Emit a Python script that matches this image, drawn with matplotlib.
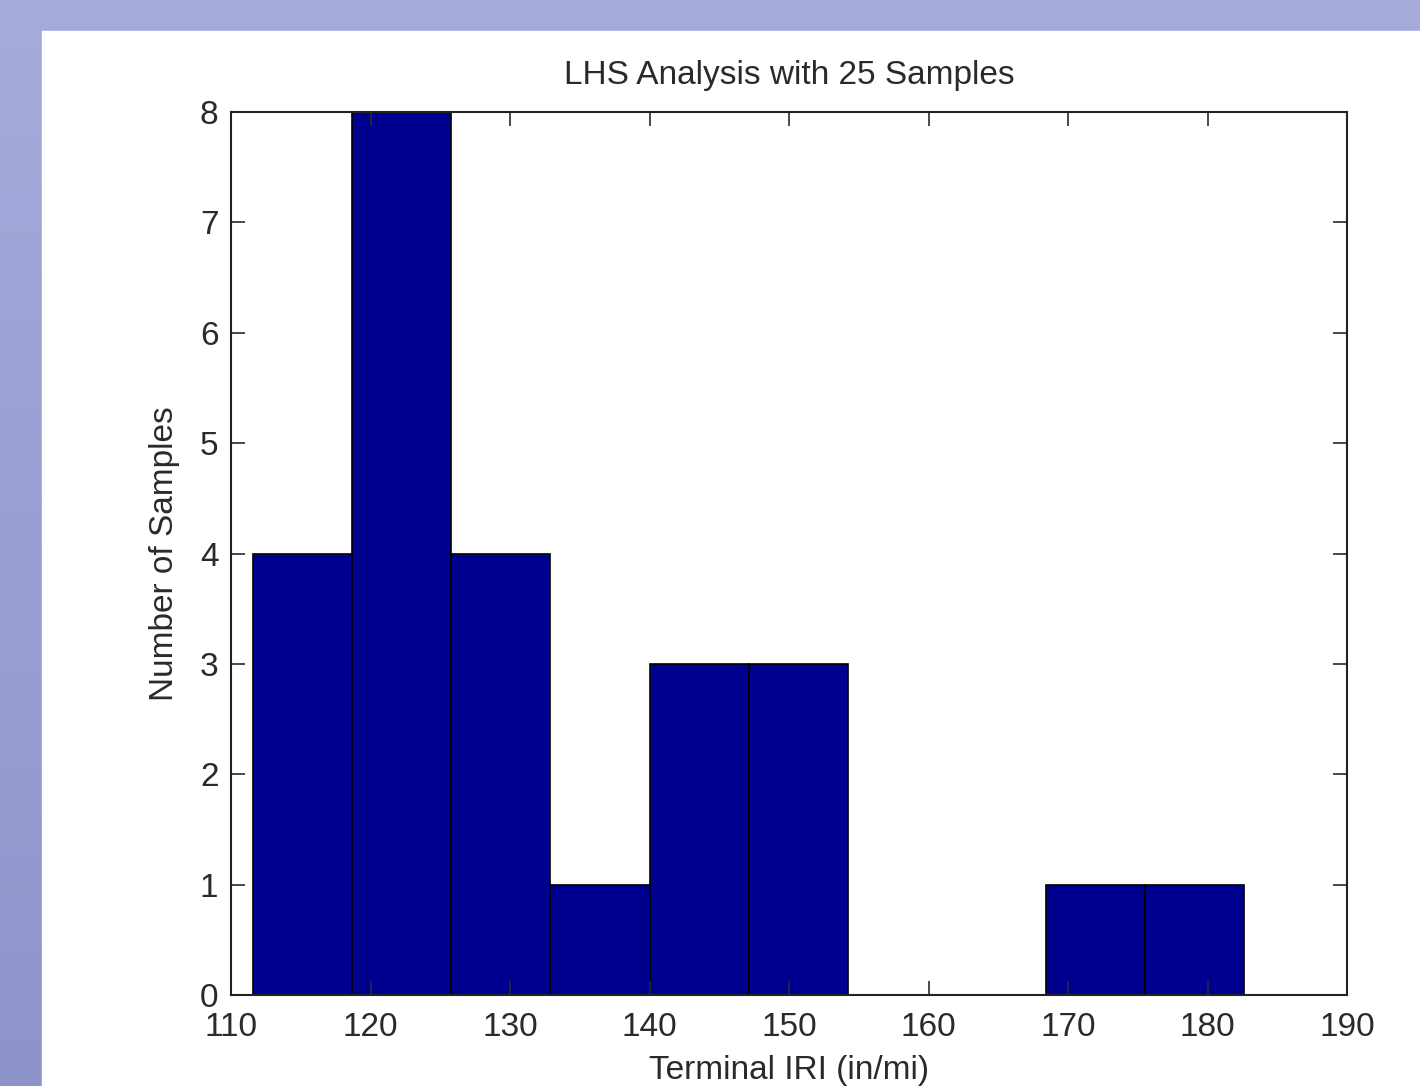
import numpy as np
import matplotlib
matplotlib.use("Agg")
import matplotlib.pyplot as plt

# Data
bin_edges = [111.6, 118.7, 125.8, 132.9, 140.0, 147.1, 154.2, 161.3, 168.4, 175.5, 182.6]
counts = [4, 8, 4, 1, 3, 3, 0, 0, 1, 1]
x_ticks = [110, 120, 130, 140, 150, 160, 170, 180, 190]
y_ticks = [0, 1, 2, 3, 4, 5, 6, 7, 8]
title = "LHS Analysis with 25 Samples"
xlabel = "Terminal IRI (in/mi)"
ylabel = "Number of Samples"

plt.rcParams['font.family'] = ['Liberation Sans', 'DejaVu Sans']

W, H = 1420, 1086
fig = plt.figure(figsize=(W / 100, H / 100), dpi=100)

# Background: lavender band with slight vertical gradient on the left
bg = fig.add_axes([0, 0, 1, 1])
grad = np.linspace(0, 1, 256)[:, None]
top = np.array([166, 171, 219]) / 255
bot = np.array([142, 147, 204]) / 255
img = (top[None, None, :] * (1 - grad[..., None]) + bot[None, None, :] * grad[..., None])
img = np.repeat(img, 4, axis=1)
bg.imshow(img, aspect='auto', extent=[0, 1, 0, 1], origin='upper')
bg.add_patch(plt.Rectangle((42 / W, 0), 1 - 42 / W, 1 - 31 / H, color='white', zorder=2))
bg.set_xlim(0, 1)
bg.set_ylim(0, 1)
bg.axis('off')

txt = '#2a2a2a'
fs = 24

# Main axes
l, r, t, b = 231, 1347, 112, 995
ax = fig.add_axes([l / W, 1 - b / H, (r - l) / W, (b - t) / H])
edges = np.array(bin_edges)
widths = np.diff(edges)
ax.bar(edges[:-1], counts, width=widths, align='edge', color='#00008F',
       edgecolor='black', linewidth=1.2)
ax.set_xlim(110, 190)
ax.set_ylim(0, 8)
ax.set_xticks(x_ticks)
ax.set_yticks(y_ticks)
ax.tick_params(direction='in', length=10, width=1.2, top=True, right=True,
               labelsize=fs, colors=txt, pad=8)
ax.tick_params(axis='x', pad=12)
ax.tick_params(axis='y', pad=9)
for s in ax.spines.values():
    s.set_linewidth(1.5)
    s.set_color('#222222')
ax.set_title(title, fontsize=fs, color=txt, pad=20)
ax.set_xlabel(xlabel, fontsize=fs, color=txt, labelpad=9)
ax.set_ylabel(ylabel, fontsize=fs, color=txt, labelpad=14)

fig.savefig("out.png", dpi=100)
